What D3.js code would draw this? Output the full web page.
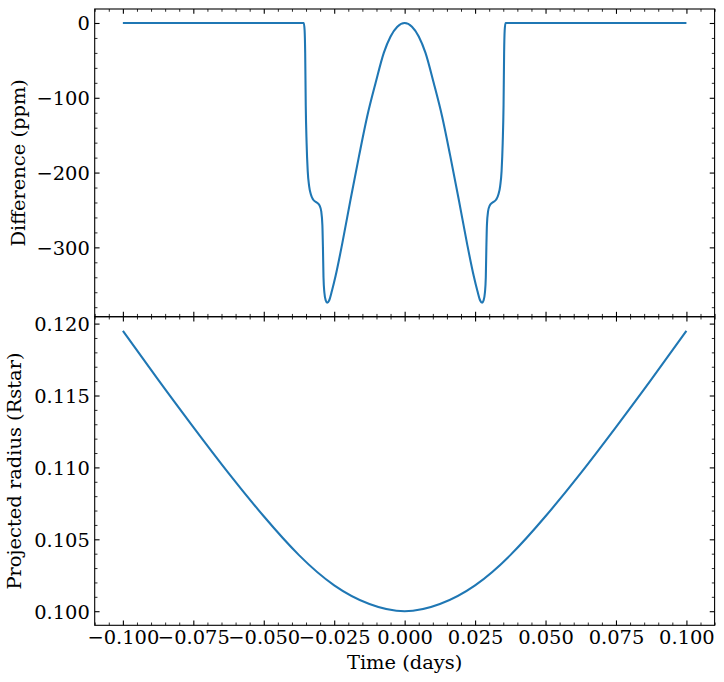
<!DOCTYPE html>
<html>
<head>
<meta charset="utf-8">
<script src="https://cdn.jsdelivr.net/npm/d3@7"></script>
<style>
  html, body { margin: 0; padding: 0; background: #fff; }
  svg { display: block; }
</style>
</head>
<body>
<svg class="svg"></svg>
<script>
// top panel: flux difference (ppm) vs time (days)
const timeTop = [
  -0.1, -0.0358, -0.0355, -0.0353, -0.0351, -0.0348, -0.0344, -0.0339, -0.0333, -0.0325,
  -0.0312, -0.0302, -0.0296, -0.0292, -0.0290, -0.0288, -0.0285, -0.0280, -0.0275, -0.0268,
  -0.0258, -0.0245, -0.0221, -0.0192, -0.0162, -0.0133, -0.0103, -0.0074, -0.0050, -0.0026,
  0,
  0.0026, 0.0050, 0.0074, 0.0103, 0.0133, 0.0162, 0.0192, 0.0221, 0.0245, 0.0258,
  0.0268, 0.0275, 0.0280, 0.0285, 0.0288, 0.0290, 0.0292, 0.0296, 0.0302, 0.0312,
  0.0325, 0.0333, 0.0339, 0.0344, 0.0348, 0.0351, 0.0353, 0.0355, 0.0358, 0.1
];
const differencePpm = [
  0, 0, -10, -40, -110, -160, -198, -218, -229, -236,
  -240, -244, -252, -270, -300, -340, -360, -371, -374, -371,
  -358, -338, -294, -236, -178, -125, -80, -40, -18, -5,
  0,
  -5, -18, -40, -80, -125, -178, -236, -294, -338, -358,
  -371, -374, -371, -360, -340, -300, -270, -252, -244, -240,
  -236, -229, -218, -198, -160, -110, -40, -10, 0, 0
];

// bottom panel: projected radius (Rstar) vs time (days)
const timeBottom = [
  -0.1, -0.0875, -0.075, -0.0625, -0.05, -0.0375, -0.025, -0.0125, 0,
  0.0125, 0.025, 0.0375, 0.05, 0.0625, 0.075, 0.0875, 0.1
];
const projectedRadius = [
  0.1195, 0.1161, 0.1128, 0.1096, 0.1066, 0.1039, 0.1018, 0.1005, 0.1000,
  0.1005, 0.1018, 0.1039, 0.1066, 0.1096, 0.1128, 0.1161, 0.1195
];

const xTicks = [-0.1, -0.075, -0.05, -0.025, 0, 0.025, 0.05, 0.075, 0.1];
const xTickLabels = ['−0.100', '−0.075', '−0.050', '−0.025', '0.000', '0.025', '0.050', '0.075', '0.100'];
const topTicks = [-300, -200, -100, 0];
const topTickLabels = ['−300', '−200', '−100', '0'];
const bottomTicks = [0.100, 0.105, 0.110, 0.115, 0.120];
const bottomTickLabels = ['0.100', '0.105', '0.110', '0.115', '0.120'];

function drawChart () {
    const width = 724;
    const height = 682;
    const margin = { left: 94.7, right: 714.6, top: 9, mid: 316.7, bottom: 625.3 };
    const font = '"DejaVu Serif", serif';
    const fontSize = 19.44;
    const major = 4.86, minor = 2.78;
    const lineColor = '#1f77b4';

    const svg = d3.select('.svg')
        .attr('width', width)
        .attr('height', height)
        .attr('viewBox', `0 0 ${width} ${height}`);

    const xScale = d3.scaleLinear().domain([-0.11, 0.11]).range([margin.left, margin.right]);
    const yTop = d3.scaleLinear().domain([-392.7, 18.7]).range([margin.mid, margin.top]);
    const yBottom = d3.scaleLinear().domain([0.09902, 0.12048]).range([margin.bottom, margin.mid]);

    // minor tick values (every 0.005 on x, 20 ppm on top, 0.001 on bottom)
    const xMinor = d3.range(-22, 23).map(i => i * 0.005)
        .filter(v => v >= -0.11 && v <= 0.11 && Math.abs(v / 0.025 - Math.round(v / 0.025)) > 1e-6);
    const topMinor = d3.range(-19, 1).map(i => i * 20).filter(v => v % 100 !== 0);
    const bottomMinor = d3.range(99, 121).map(i => i / 1000)
        .filter(v => v > 0.09902 && Math.abs(v / 0.005 - Math.round(v / 0.005)) > 1e-6);

    function styleAxis (g) {
        g.select('.domain').remove();
        g.selectAll('line').attr('stroke', '#000');
        g.selectAll('text')
            .attr('fill', '#000')
            .style('font-family', font)
            .style('font-size', `${fontSize}px`);
    }

    function panelAxes (yScale, yTicks, yLabels, yMinor, top, bottom, showX) {
        // x ticks, bottom edge
        svg.append('g')
            .attr('transform', `translate(0, ${bottom})`)
            .call(d3.axisBottom(xScale).tickValues(xTicks)
                .tickFormat((d, i) => showX ? xTickLabels[i] : '')
                .tickSizeInner(-major).tickSizeOuter(0).tickPadding(major))
            .call(styleAxis)
            .selectAll('line').attr('stroke-width', 1.1);
        svg.append('g')
            .attr('transform', `translate(0, ${bottom})`)
            .call(d3.axisBottom(xScale).tickValues(xMinor).tickFormat('')
                .tickSizeInner(-minor).tickSizeOuter(0))
            .call(styleAxis)
            .selectAll('line').attr('stroke-width', 0.83);
        // x ticks, top edge
        svg.append('g')
            .attr('transform', `translate(0, ${top})`)
            .call(d3.axisTop(xScale).tickValues(xTicks).tickFormat('')
                .tickSizeInner(-major).tickSizeOuter(0))
            .call(styleAxis)
            .selectAll('line').attr('stroke-width', 1.1);
        svg.append('g')
            .attr('transform', `translate(0, ${top})`)
            .call(d3.axisTop(xScale).tickValues(xMinor).tickFormat('')
                .tickSizeInner(-minor).tickSizeOuter(0))
            .call(styleAxis)
            .selectAll('line').attr('stroke-width', 0.83);
        // y ticks, left edge
        svg.append('g')
            .attr('transform', `translate(${margin.left}, 0)`)
            .call(d3.axisLeft(yScale).tickValues(yTicks)
                .tickFormat((d, i) => yLabels[i])
                .tickSizeInner(-major).tickSizeOuter(0).tickPadding(major))
            .call(styleAxis)
            .call(g => g.selectAll('text').attr('dy', '0.36em'))
            .selectAll('line').attr('stroke-width', 1.1);
        svg.append('g')
            .attr('transform', `translate(${margin.left}, 0)`)
            .call(d3.axisLeft(yScale).tickValues(yMinor).tickFormat('')
                .tickSizeInner(-minor).tickSizeOuter(0))
            .call(styleAxis)
            .selectAll('line').attr('stroke-width', 0.83);
        // y ticks, right edge
        svg.append('g')
            .attr('transform', `translate(${margin.right}, 0)`)
            .call(d3.axisRight(yScale).tickValues(yTicks).tickFormat('')
                .tickSizeInner(-major).tickSizeOuter(0))
            .call(styleAxis)
            .selectAll('line').attr('stroke-width', 1.1);
        svg.append('g')
            .attr('transform', `translate(${margin.right}, 0)`)
            .call(d3.axisRight(yScale).tickValues(yMinor).tickFormat('')
                .tickSizeInner(-minor).tickSizeOuter(0))
            .call(styleAxis)
            .selectAll('line').attr('stroke-width', 0.83);

        // frame
        svg.append('rect')
            .attr('x', margin.left)
            .attr('y', top)
            .attr('width', margin.right - margin.left)
            .attr('height', bottom - top)
            .attr('fill', 'none')
            .attr('stroke', '#000')
            .attr('stroke-width', 1.1);
    }

    /* TOP PANEL */
    const topData = timeTop.map((t, i) => ({ t: t, v: differencePpm[i] }));
    svg.append('path')
        .datum(topData)
        .attr('fill', 'none')
        .attr('stroke', lineColor)
        .attr('stroke-width', 2.08)
        .attr('stroke-linejoin', 'round')
        .attr('d', d3.line()
            .x(d => xScale(d.t))
            .y(d => yTop(d.v))
            .curve(d3.curveMonotoneX));

    /* BOTTOM PANEL */
    const bottomData = timeBottom.map((t, i) => ({ t: t, v: projectedRadius[i] }));
    svg.append('path')
        .datum(bottomData)
        .attr('fill', 'none')
        .attr('stroke', lineColor)
        .attr('stroke-width', 2.08)
        .attr('d', d3.line()
            .x(d => xScale(d.t))
            .y(d => yBottom(d.v))
            .curve(d3.curveNatural));

    panelAxes(yTop, topTicks, topTickLabels, topMinor, margin.top, margin.mid, false);
    panelAxes(yBottom, bottomTicks, bottomTickLabels, bottomMinor, margin.mid, margin.bottom, true);

    // axis labels
    svg.append('text')
        .attr('x', (margin.left + margin.right) / 2)
        .attr('y', 668.5)
        .attr('text-anchor', 'middle')
        .style('font-family', font)
        .style('font-size', `${fontSize}px`)
        .text('Time (days)');

    svg.append('text')
        .attr('transform', `translate(24.5, ${(margin.top + margin.mid) / 2}) rotate(-90)`)
        .attr('text-anchor', 'middle')
        .style('font-family', font)
        .style('font-size', `${fontSize}px`)
        .text('Difference (ppm)');

    svg.append('text')
        .attr('transform', `translate(20.5, ${(margin.mid + margin.bottom) / 2}) rotate(-90)`)
        .attr('text-anchor', 'middle')
        .style('font-family', font)
        .style('font-size', `${fontSize}px`)
        .text('Projected radius (Rstar)');
}

document.addEventListener('DOMContentLoaded', function () {
    drawChart();
});
</script>
</body>
</html>
